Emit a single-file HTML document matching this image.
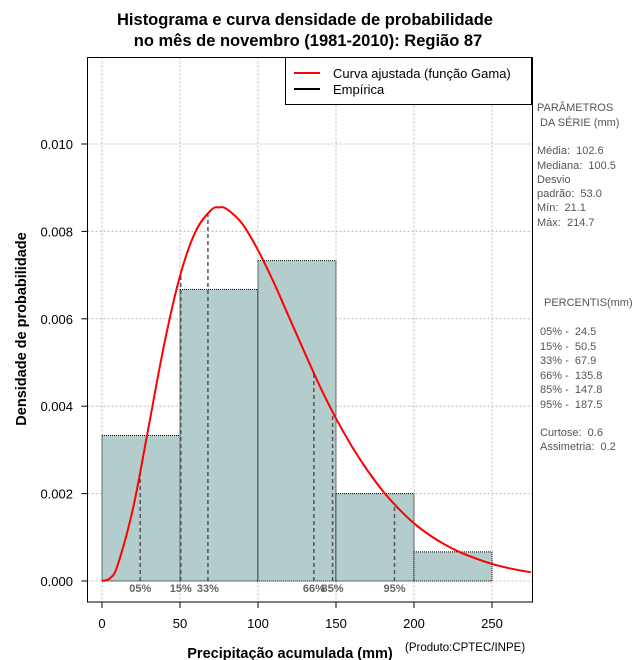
<!DOCTYPE html>
<html><head><meta charset="utf-8">
<style>
html,body{margin:0;padding:0;background:#fff;}
svg{display:block;font-family:"Liberation Sans",sans-serif;}
text{white-space:pre;}
</style></head>
<body>
<svg id="chart" width="640" height="660" viewBox="0 0 640 660">
<g id="g-grid"></g>
<g id="g-bars"></g>
<g id="g-pct"></g>
<g id="g-curve"></g>
<g id="g-axes"></g>
<text x="305" y="25" text-anchor="middle" font-size="16.5" font-weight="bold">Histograma e curva densidade de probabilidade</text>
<text x="308" y="46" text-anchor="middle" font-size="16.5" font-weight="bold">no mês de novembro (1981-2010): Região 87</text>
<text x="290" y="658" text-anchor="middle" font-size="14.5" font-weight="bold">Precipitação acumulada (mm)</text>
<text x="405" y="651" font-size="11.5">(Produto:CPTEC/INPE)</text>
<text transform="translate(26,329) rotate(-90)" text-anchor="middle" font-size="14.5" font-weight="bold">Densidade de probabilidade</text>
<g>
<rect x="285.5" y="57.5" width="246" height="47" fill="#fff" stroke="#000"/>
<line x1="294" y1="73" x2="320" y2="73" stroke="#f00" stroke-width="2"/>
<text x="333" y="78" font-size="13">Curva ajustada (função Gama)</text>
<line x1="294" y1="89" x2="320" y2="89" stroke="#000" stroke-width="2"/>
<text x="333" y="94" font-size="13">Empírica</text>
</g>
<g font-size="11" fill="#555">
<text x="537" y="111">PARÂMETROS</text>
<text x="540" y="126">DA SÉRIE (mm)</text>
<text x="537" y="154">Média:  102.6</text>
<text x="537" y="169">Mediana:  100.5</text>
<text x="537" y="183">Desvio</text>
<text x="537" y="197">padrão:  53.0</text>
<text x="537" y="211">Mín:  21.1</text>
<text x="537" y="226">Máx:  214.7</text>
<text x="544" y="306">PERCENTIS(mm)</text>
<text x="540" y="335">05% -  24.5</text>
<text x="540" y="350">15% -  50.5</text>
<text x="540" y="364">33% -  67.9</text>
<text x="540" y="379">66% -  135.8</text>
<text x="540" y="393">85% -  147.8</text>
<text x="540" y="408">95% -  187.5</text>
<text x="540" y="436">Curtose:  0.6</text>
<text x="540" y="450">Assimetria:  0.2</text>
</g>
</svg>
<script>
const binEdges = [0, 50, 100, 150, 200, 250];
const binDensity = [0.00333, 0.00667, 0.00733, 0.00200, 0.000667];
const curveX = [0,5,10,20,30,40,50,60,70,75,80,90,100,110,120,130,140,150,160,170,180,190,200,210,220,230,240,250,260,270,275];
const curveY = [0,0.00006,0.00036,0.00168,0.00355,0.00544,0.00698,0.00800,0.00849,0.00855,0.00851,0.00817,0.00757,0.00684,0.00603,0.00522,0.00443,0.00372,0.00309,0.00254,0.00206,0.00166,0.00132,0.00105,0.00083,0.00065,0.00051,0.00039,0.00030,0.00023,0.00020];
const pctLabels = ["05%","15%","33%","66%","85%","95%"];
const pctValues = [24.5, 50.5, 67.9, 135.8, 147.8, 187.5];
const xTicks = [0,50,100,150,200,250];
const yTicks = [0,0.002,0.004,0.006,0.008,0.010];
const yTickLabels = ["0.000","0.002","0.004","0.006","0.008","0.010"];

const NS="http://www.w3.org/2000/svg";
const L=87.5,R=532.5,T=57.5,B=602;
const X=v=>102+v*1.56;
const Y=v=>581-v*43700;
function mk(tag,attrs,parent){const e=document.createElementNS(NS,tag);for(const k in attrs)e.setAttribute(k,attrs[k]);parent.appendChild(e);return e;}
function gammaAt(x){for(let i=0;i<curveX.length-1;i++){if(x>=curveX[i]&&x<=curveX[i+1]){const t=(x-curveX[i])/(curveX[i+1]-curveX[i]);return curveY[i]+t*(curveY[i+1]-curveY[i]);}}return 0;}
const gg=document.getElementById('g-grid'),gb=document.getElementById('g-bars'),gp=document.getElementById('g-pct'),gc=document.getElementById('g-curve'),ga=document.getElementById('g-axes');
xTicks.forEach(v=>{const l=mk('line',{x1:X(v),x2:X(v),y1:T,y2:B,stroke:'#bbb','stroke-dasharray':'2,2'},gg);

});
yTicks.forEach(v=>{const l=mk('line',{x1:L,x2:R,y1:Y(v),y2:Y(v),stroke:'#bbb','stroke-dasharray':'2,2'},gg);

});
binDensity.forEach((d,i)=>{const r=mk('rect',{x:X(binEdges[i]),y:Y(d),width:X(binEdges[i+1])-X(binEdges[i]),height:Y(0)-Y(d),fill:'#b3cccc',stroke:'#000','stroke-width':1,'stroke-dasharray':'1,1'},gb);

});
pctValues.forEach((v,i)=>{const l=mk('line',{x1:X(v),x2:X(v),y1:Y(0),y2:Y(gammaAt(v)),stroke:'#555','stroke-width':1.5,'stroke-dasharray':'4,3'},gp);


const t=mk('text',{x:X(v),y:592,'text-anchor':'middle','font-size':11,'font-weight':'bold',fill:'#666'},gp);t.textContent=pctLabels[i];

});
// smooth Catmull-Rom path through the curve points
const pts=curveX.map((x,i)=>[X(x),Y(curveY[i])]);
let d='M'+pts[0][0]+','+pts[0][1];
for(let i=0;i<pts.length-1;i++){const p0=pts[Math.max(i-1,0)],p1=pts[i],p2=pts[i+1],p3=pts[Math.min(i+2,pts.length-1)];
d+=' C'+(p1[0]+(p2[0]-p0[0])/6)+','+(p1[1]+(p2[1]-p0[1])/6)+' '+(p2[0]-(p3[0]-p1[0])/6)+','+(p2[1]-(p3[1]-p1[1])/6)+' '+p2[0]+','+p2[1];}
const p=mk('path',{d:d,fill:'none',stroke:'#f00','stroke-width':2},gc);


const f=mk('rect',{x:L,y:T,width:R-L,height:B-T,fill:'none',stroke:'#000'},ga);


xTicks.forEach(v=>{const l=mk('line',{x1:X(v),x2:X(v),y1:B,y2:B+6,stroke:'#000'},ga);


const t=mk('text',{x:X(v),y:628,'text-anchor':'middle','font-size':13},ga);t.textContent=v;

});
yTicks.forEach((v,i)=>{const l=mk('line',{x1:L-6,x2:L,y1:Y(v),y2:Y(v),stroke:'#000'},ga);


const t=mk('text',{x:73,y:Y(v)+5,'text-anchor':'end','font-size':13},ga);t.textContent=yTickLabels[i];

});
</script>
</body></html>
